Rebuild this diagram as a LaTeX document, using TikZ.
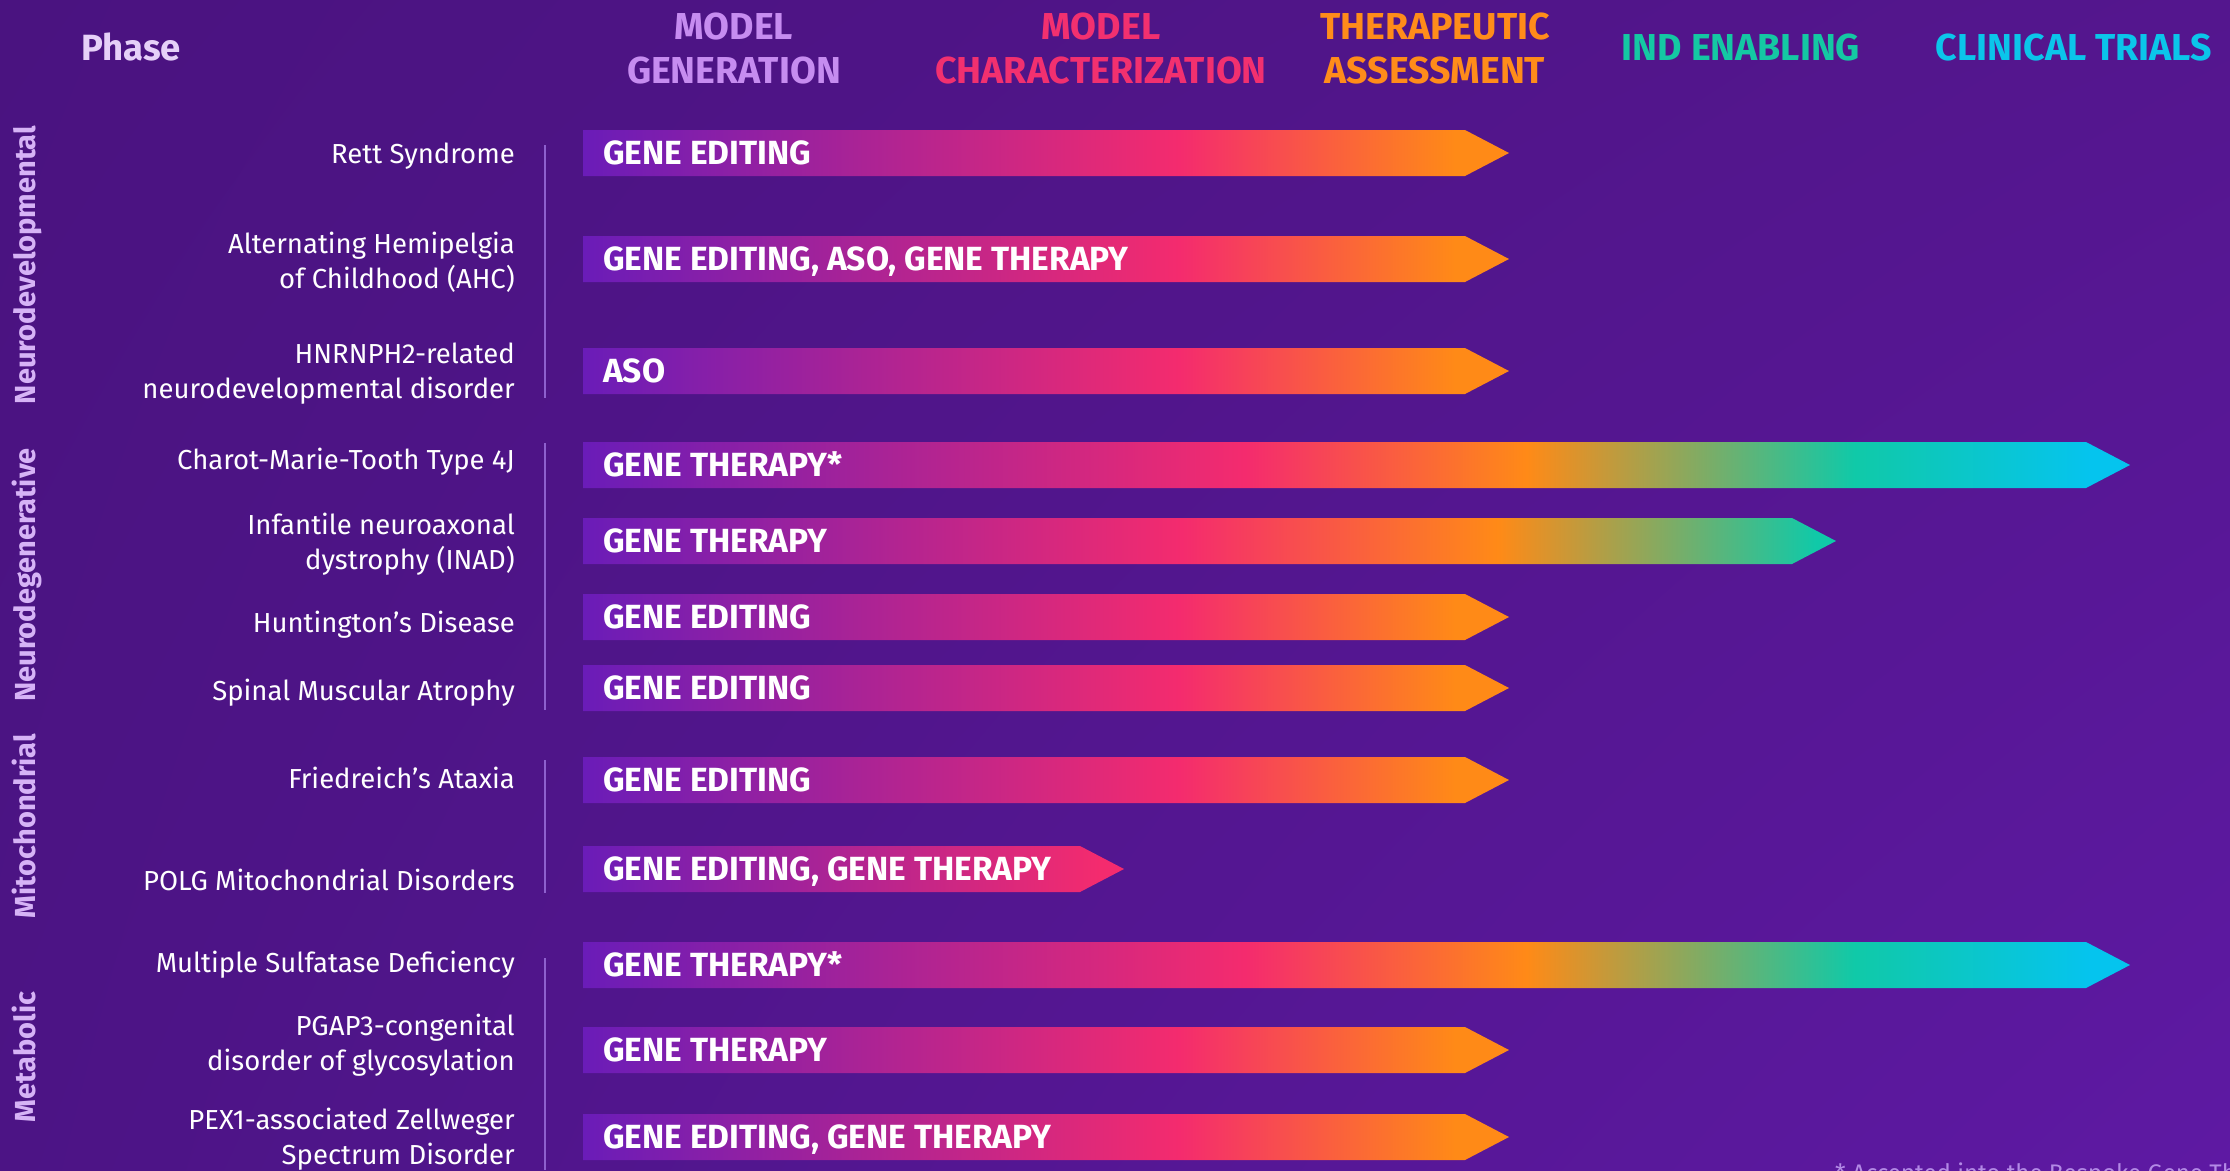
\documentclass[tikz,border=0pt]{standalone}
\usepackage{fontspec}
\setmainfont{Fira Sans}
\usepackage{tikz}
\usetikzlibrary{shadings}

\definecolor{bgtl}{HTML}{4A1380}
\definecolor{bgtr}{HTML}{54168E}
\definecolor{bgbl}{HTML}{4C1485}
\definecolor{bgbr}{HTML}{5E19A3}
\definecolor{pipeviolet}{HTML}{6A1CB8}
\definecolor{pipepink}{HTML}{F42B6E}
\definecolor{pipeorange}{HTML}{FF8A17}
\definecolor{pipeteal}{HTML}{10C9A8}
\definecolor{pipecyan}{HTML}{05C4EE}
\definecolor{phaselav}{HTML}{E6D0F8}
\definecolor{genlav}{HTML}{C68CF0}
\definecolor{charpink}{HTML}{F2306F}
\definecolor{therorange}{HTML}{FF8C1A}
\definecolor{indteal}{HTML}{14C8A3}
\definecolor{clincyan}{HTML}{0BC5EA}
\definecolor{grouplav}{HTML}{D6B3F6}
\definecolor{divlav}{HTML}{8E60CE}
\definecolor{notelav}{HTML}{B38AE6}

\pgfdeclarehorizontalshading{pipestub}{100bp}{color(0bp)=(pipeviolet); color(25bp)=(pipeviolet); color(72.8bp)=(pipepink); color(100bp)=(pipepink)}
\pgfdeclarehorizontalshading{pipeshort}{100bp}{color(0bp)=(pipeviolet); color(25bp)=(pipeviolet); color(57.2bp)=(pipepink); color(72.1bp)=(pipeorange); color(100bp)=(pipeorange)}
\pgfdeclarehorizontalshading{pipemid}{100bp}{color(0bp)=(pipeviolet); color(25bp)=(pipeviolet); color(48.9bp)=(pipepink); color(61.5bp)=(pipeorange); color(74.2bp)=(pipeteal); color(100bp)=(pipeteal)}
\pgfdeclarehorizontalshading{pipelong}{100bp}{color(0bp)=(pipeviolet); color(25bp)=(pipeviolet); color(46.4bp)=(pipepink); color(55.5bp)=(pipeorange); color(66.1bp)=(pipeteal); color(73.7bp)=(pipecyan); color(100bp)=(pipecyan)}

\begin{document}
\begin{tikzpicture}[x=1pt, y=-1pt,
  phase/.style={font=\bfseries\fontsize{37.5}{44}\selectfont, align=center, inner sep=0pt},
  group/.style={font=\bfseries\fontsize{29}{34}\selectfont, text=grouplav, rotate=90, inner sep=0pt, text height=21pt, text depth=6pt},
  disease/.style={font=\fontsize{27.5}{35}\selectfont, text=white, align=right, anchor=east, inner sep=0pt},
  pipetext/.style={font=\bfseries\fontsize{33.5}{38}\selectfont, text=white, anchor=west, inner sep=0pt, text height=23pt, text depth=0pt},
  divider/.style={draw=divlav, line width=2pt}]
\useasboundingbox (0,0) rectangle (2230,1170);
\shade[upper left=bgtl, upper right=bgtr, lower left=bgbl, lower right=bgbr] (0,0) rectangle (2230,1170);

\node[phase, text=phaselav, font=\bfseries\fontsize{36.5}{44}\selectfont] (phase) at (131,47) {Phase};
\node[phase, text=genlav] (gen) at (734,49) {MODEL\\GENERATION};
\node[phase, text=charpink] (char) at (1101,49) {MODEL\\CHARACTERIZATION};
\node[phase, text=therorange] (ther) at (1435,49) {THERAPEUTIC\\ASSESSMENT};
\node[phase, text=indteal] (ind) at (1741,48) {IND ENABLING};
\node[phase, text=clincyan] (clin) at (2074,48) {CLINICAL TRIALS};

\node[group] (neurodev) at (28,265) {Neurodevelopmental};
\node[group] (neurodeg) at (28,575) {Neurodegenerative};
\node[group] (mito) at (28,826) {Mitochondrial};
\node[group] (meta) at (28,1057) {Metabolic};

\draw[divider] (545,145) -- (545,398);
\draw[divider] (545,443) -- (545,710);
\draw[divider] (545,760) -- (545,893);
\draw[divider] (545,958) -- (545,1170);

\node[disease] (rett) at (515,156) {Rett Syndrome};
\shade[shading=pipeshort] (583,130) -- ++(882,0) -- ++(44,23) -- ++(-44,23) -- ++(-882,0) -- cycle;
\node[pipetext] (rett pipe) at (603,153) {GENE EDITING};

\node[disease] (ahc) at (515,262) {Alternating Hemipelgia\\of Childhood (AHC)};
\shade[shading=pipeshort] (583,236) -- ++(882,0) -- ++(44,23) -- ++(-44,23) -- ++(-882,0) -- cycle;
\node[pipetext] (ahc pipe) at (603,259) {GENE EDITING, ASO, GENE THERAPY};

\node[disease] (hnrnph) at (515,374) {HNRNPH2-related\\neurodevelopmental disorder};
\shade[shading=pipeshort] (583,348) -- ++(882,0) -- ++(44,23) -- ++(-44,23) -- ++(-882,0) -- cycle;
\node[pipetext] (hnrnph pipe) at (603,371) {ASO};

\node[disease] (cmt) at (515,462) {Charot-Marie-Tooth Type 4J};
\shade[shading=pipelong] (583,442) -- ++(1503,0) -- ++(44,23) -- ++(-44,23) -- ++(-1503,0) -- cycle;
\node[pipetext] (cmt pipe) at (603,465) {GENE THERAPY*};

\node[disease] (inad) at (515,544) {Infantile neuroaxonal\\dystrophy (INAD)};
\shade[shading=pipemid] (583,518) -- ++(1209,0) -- ++(44,23) -- ++(-44,23) -- ++(-1209,0) -- cycle;
\node[pipetext] (inad pipe) at (603,541) {GENE THERAPY};

\node[disease] (hd) at (515,625) {Huntington’s Disease};
\shade[shading=pipeshort] (583,594) -- ++(882,0) -- ++(44,23) -- ++(-44,23) -- ++(-882,0) -- cycle;
\node[pipetext] (hd pipe) at (603,617) {GENE EDITING};

\node[disease] (sma) at (515,693) {Spinal Muscular Atrophy};
\shade[shading=pipeshort] (583,665) -- ++(882,0) -- ++(44,23) -- ++(-44,23) -- ++(-882,0) -- cycle;
\node[pipetext] (sma pipe) at (603,688) {GENE EDITING};

\node[disease] (fa) at (515,778) {Friedreich’s Ataxia};
\shade[shading=pipeshort] (583,757) -- ++(882,0) -- ++(44,23) -- ++(-44,23) -- ++(-882,0) -- cycle;
\node[pipetext] (fa pipe) at (603,780) {GENE EDITING};

\node[disease] (polg) at (515,880) {POLG Mitochondrial Disorders};
\shade[shading=pipestub] (583,846) -- ++(497,0) -- ++(44,23) -- ++(-44,23) -- ++(-497,0) -- cycle;
\node[pipetext] (polg pipe) at (603,869) {GENE EDITING, GENE THERAPY};

\node[disease] (msd) at (515,965) {Multiple Sulfatase Deficiency};
\shade[shading=pipelong] (583,942) -- ++(1503,0) -- ++(44,23) -- ++(-44,23) -- ++(-1503,0) -- cycle;
\node[pipetext] (msd pipe) at (603,965) {GENE THERAPY*};

\node[disease] (pgap) at (515,1045) {PGAP3-congenital\\disorder of glycosylation};
\shade[shading=pipeshort] (583,1027) -- ++(882,0) -- ++(44,23) -- ++(-44,23) -- ++(-882,0) -- cycle;
\node[pipetext] (pgap pipe) at (603,1050) {GENE THERAPY};

\node[disease] (pex) at (515,1139) {PEX1-associated Zellweger\\Spectrum Disorder};
\shade[shading=pipeshort] (583,1114) -- ++(882,0) -- ++(44,23) -- ++(-44,23) -- ++(-882,0) -- cycle;
\node[pipetext] (pex pipe) at (603,1137) {GENE EDITING, GENE THERAPY};

\node[anchor=base west, font=\fontsize{24}{28}\selectfont, text=notelav, inner sep=0pt] (note) at (1835,1181) {* Accepted into the Bespoke Gene Therapy Consortium};
\end{tikzpicture}
\end{document}
